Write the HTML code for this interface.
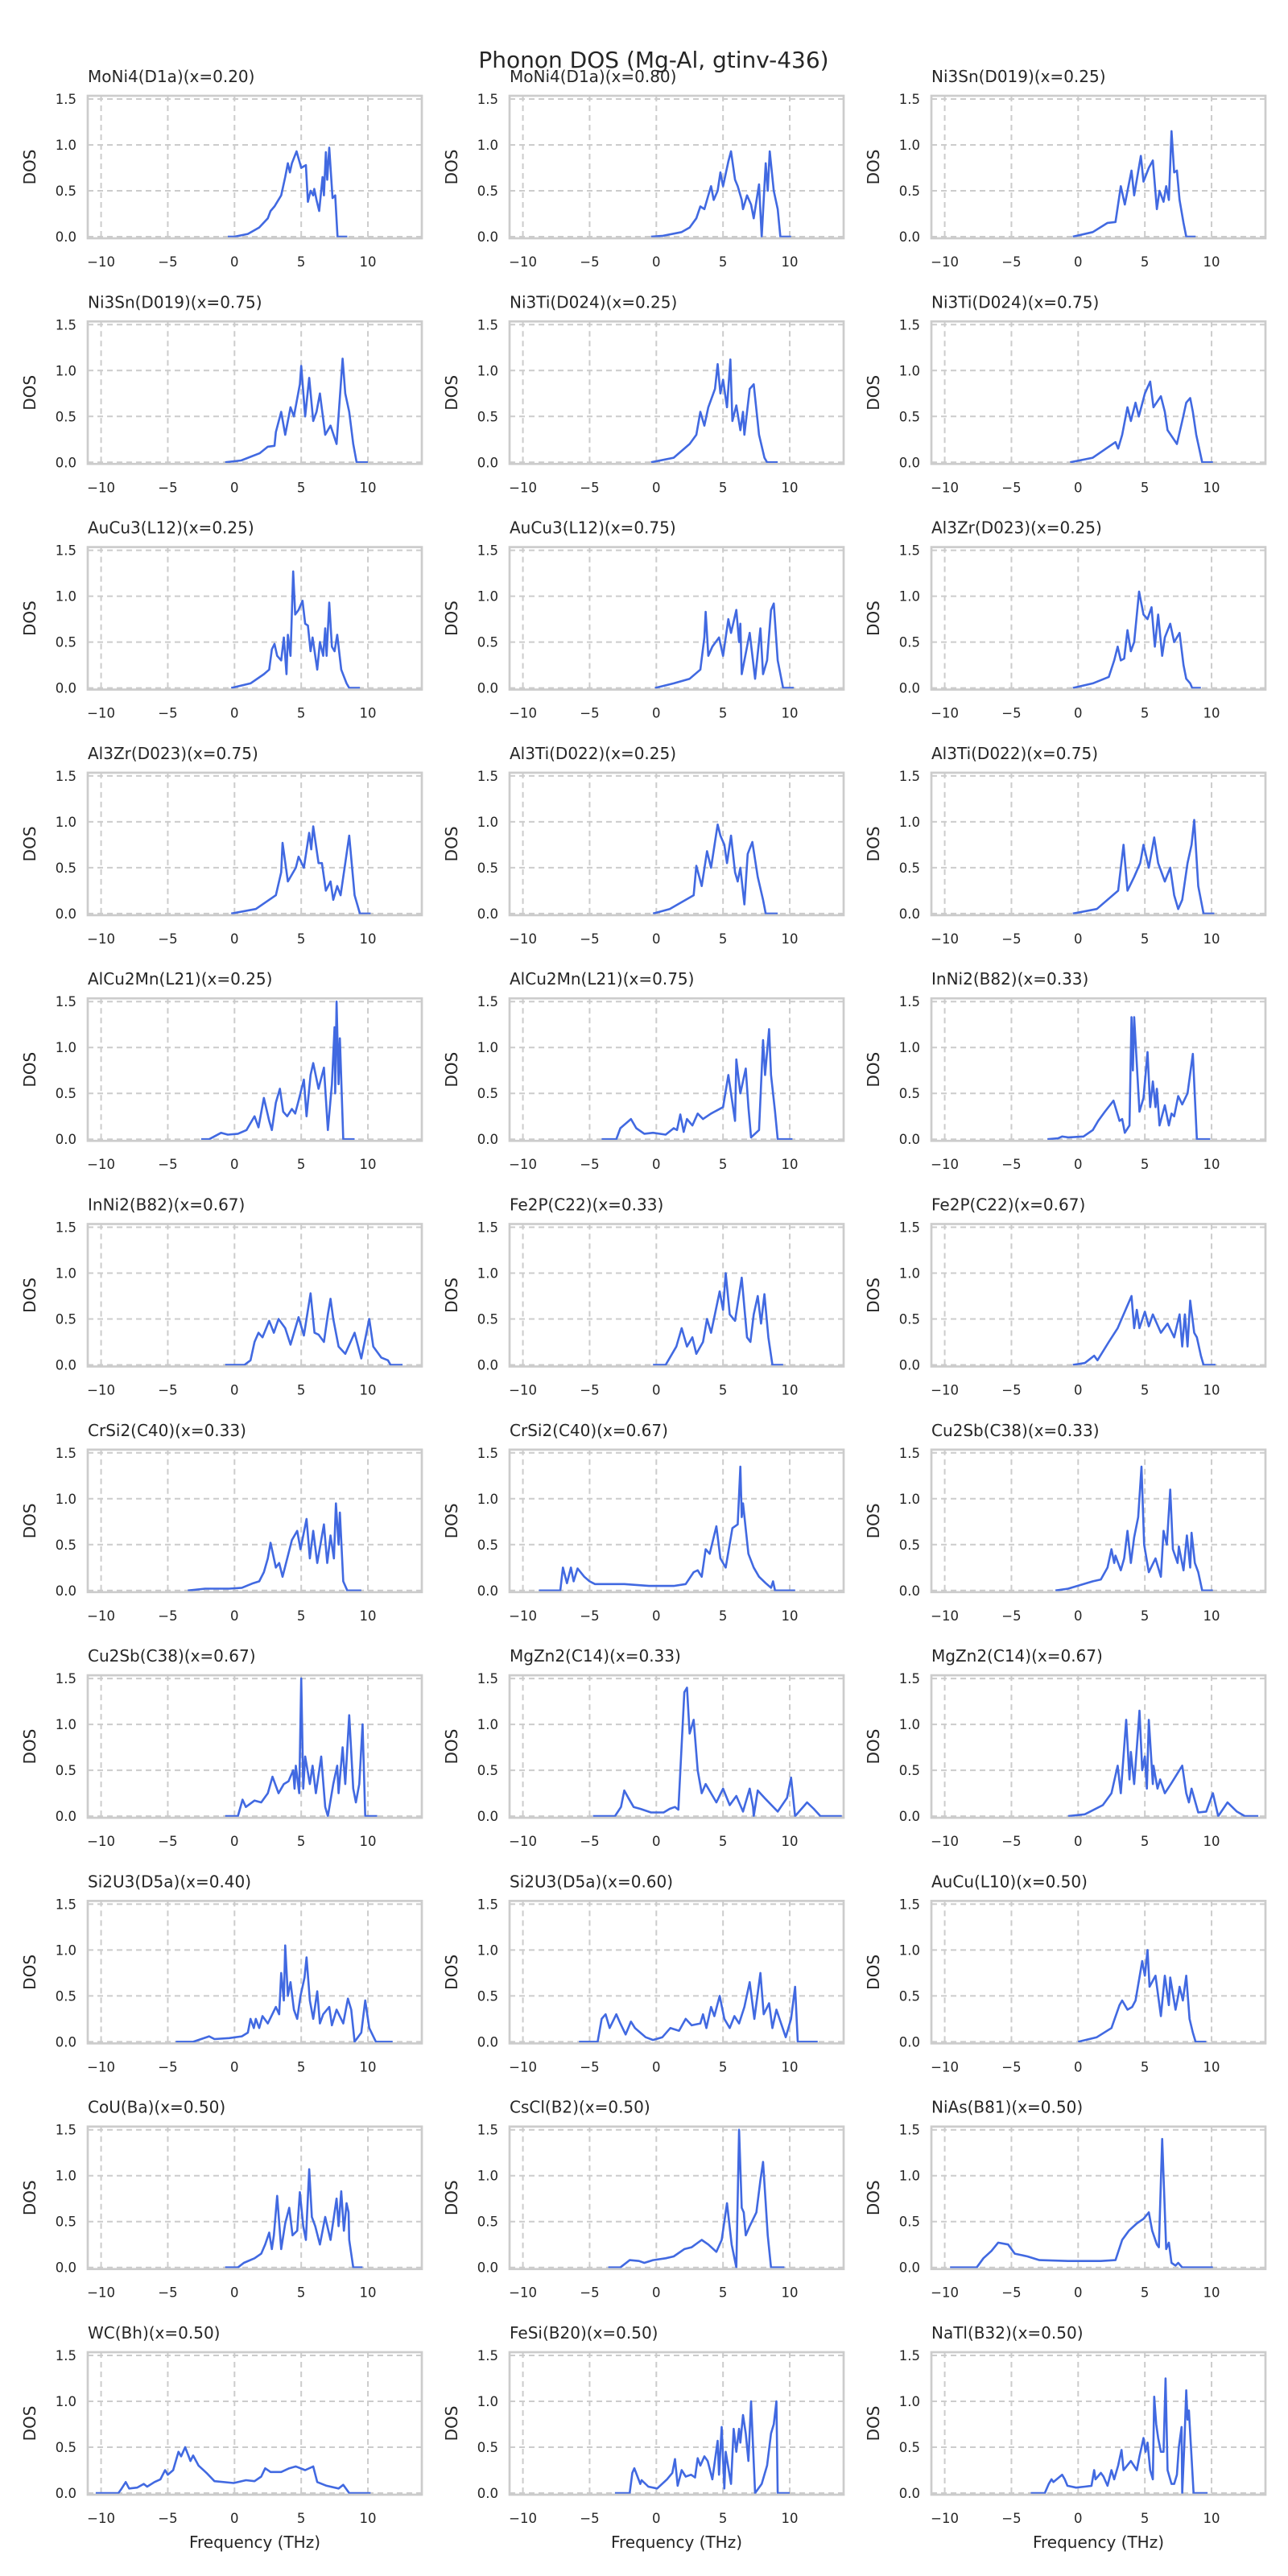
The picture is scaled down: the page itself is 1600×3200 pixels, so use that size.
<!DOCTYPE html>
<html><head><meta charset="utf-8"><style>
html,body{margin:0;padding:0;background:#fff;}
svg{display:block;font-family:"DejaVu Sans","Liberation Sans",sans-serif;}
</style></head><body>
<svg id="fig" width="1600" height="3200" viewBox="0 0 1600 3200" xmlns="http://www.w3.org/2000/svg">
<rect width="1600" height="3200" fill="#fff"/>
<text x="812" y="84" text-anchor="middle" font-size="28" fill="#262626">Phonon DOS (Mg-Al, gtinv-436)</text>
</svg>
<script>
const titles = ["MoNi4(D1a)(x=0.20)","MoNi4(D1a)(x=0.80)","Ni3Sn(D019)(x=0.25)","Ni3Sn(D019)(x=0.75)","Ni3Ti(D024)(x=0.25)","Ni3Ti(D024)(x=0.75)","AuCu3(L12)(x=0.25)","AuCu3(L12)(x=0.75)","Al3Zr(D023)(x=0.25)","Al3Zr(D023)(x=0.75)","Al3Ti(D022)(x=0.25)","Al3Ti(D022)(x=0.75)","AlCu2Mn(L21)(x=0.25)","AlCu2Mn(L21)(x=0.75)","InNi2(B82)(x=0.33)","InNi2(B82)(x=0.67)","Fe2P(C22)(x=0.33)","Fe2P(C22)(x=0.67)","CrSi2(C40)(x=0.33)","CrSi2(C40)(x=0.67)","Cu2Sb(C38)(x=0.33)","Cu2Sb(C38)(x=0.67)","MgZn2(C14)(x=0.33)","MgZn2(C14)(x=0.67)","Si2U3(D5a)(x=0.40)","Si2U3(D5a)(x=0.60)","AuCu(L10)(x=0.50)","CoU(Ba)(x=0.50)","CsCl(B2)(x=0.50)","NiAs(B81)(x=0.50)","WC(Bh)(x=0.50)","FeSi(B20)(x=0.50)","NaTl(B32)(x=0.50)"];
const xTicks = [-10,-5,0,5,10];
const xTickLabels = ["\u221210","\u22125","0","5","10"];
const yTicks = [0,0.5,1.0,1.5];
const yTickLabels = ["0.0","0.5","1.0","1.5"];
// each series: [frequency (THz), DOS] pairs
const P0=[[-0.5,0],[0,0],[1,0.03],[1.85,0.1],[2.5,0.2],[2.7,0.28],[3.0,0.33],[3.5,0.45],[3.8,0.65],[4.0,0.8],[4.15,0.7],[4.3,0.8],[4.65,0.93],[5.0,0.75],[5.35,0.78],[5.4,0.65],[5.5,0.38],[5.7,0.5],[5.9,0.45],[5.98,0.52],[6.15,0.4],[6.35,0.28],[6.6,0.65],[6.7,0.45],[6.85,0.92],[6.95,0.62],[7.1,0.97],[7.35,0.42],[7.55,0.45],[7.72,0],[8.45,0]];
const P1=[[-0.4,0],[0.5,0.01],[1.9,0.05],[2.5,0.1],[3.0,0.2],[3.3,0.33],[3.6,0.3],[3.9,0.45],[4.1,0.55],[4.3,0.4],[4.6,0.5],[4.8,0.7],[5.0,0.55],[5.4,0.82],[5.6,0.93],[5.9,0.62],[6.1,0.55],[6.4,0.4],[6.5,0.3],[6.8,0.45],[7.1,0.35],[7.3,0.2],[7.7,0.57],[7.9,0],[8.2,0.8],[8.35,0.5],[8.5,0.93],[8.8,0.5],[9.1,0.3],[9.3,0],[10.1,0]];
const P2=[[-0.4,0],[1.1,0.05],[2.2,0.15],[2.8,0.16],[3.2,0.55],[3.5,0.35],[4.0,0.72],[4.2,0.45],[4.7,0.88],[4.9,0.6],[5.3,0.75],[5.6,0.83],[5.9,0.3],[6.1,0.5],[6.4,0.38],[6.6,0.55],[6.8,0.4],[7.0,1.15],[7.2,0.7],[7.4,0.72],[7.6,0.4],[7.9,0.15],[8.1,0],[8.8,0]];
const P3=[[-0.7,0],[0.5,0.02],[1.9,0.1],[2.5,0.17],[3.0,0.18],[3.1,0.33],[3.5,0.55],[3.8,0.3],[4.2,0.6],[4.45,0.5],[4.9,0.85],[5.0,1.05],[5.3,0.5],[5.6,0.92],[5.9,0.45],[6.15,0.55],[6.4,0.75],[6.8,0.3],[7.2,0.4],[7.65,0.2],[8.1,1.13],[8.3,0.75],[8.6,0.55],[8.9,0.2],[9.15,0],[10.0,0]];
const P4=[[-0.4,0],[1.3,0.05],[2.5,0.2],[3.0,0.3],[3.3,0.55],[3.6,0.4],[3.9,0.6],[4.4,0.8],[4.6,1.07],[4.8,0.75],[5.0,0.9],[5.3,0.6],[5.55,1.12],[5.7,0.45],[6.0,0.62],[6.3,0.35],[6.5,0.55],[6.6,0.3],[7.0,0.8],[7.3,0.85],[7.7,0.3],[8.1,0.05],[8.3,0],[9.1,0]];
const P5=[[-0.6,0],[1.1,0.05],[2.8,0.22],[3.0,0.15],[3.3,0.3],[3.7,0.6],[3.95,0.45],[4.3,0.65],[4.55,0.5],[5.0,0.75],[5.4,0.88],[5.65,0.6],[6.2,0.72],[6.5,0.55],[6.7,0.35],[7.4,0.2],[7.8,0.45],[8.1,0.65],[8.4,0.7],[8.6,0.55],[8.85,0.3],[9.3,0],[10.1,0]];
const P6=[[-0.25,0],[1.2,0.05],[2.2,0.15],[2.6,0.2],[2.8,0.42],[3.0,0.48],[3.2,0.35],[3.5,0.3],[3.7,0.55],[3.9,0.15],[4.0,0.58],[4.2,0.35],[4.4,1.27],[4.55,0.8],[4.8,0.85],[5.1,0.95],[5.3,0.7],[5.5,0.68],[5.7,0.4],[5.85,0.55],[6.2,0.2],[6.4,0.5],[6.65,0.35],[6.8,0.65],[6.9,0.35],[7.1,0.93],[7.3,0.45],[7.5,0.4],[7.7,0.58],[8.0,0.2],[8.4,0.05],[8.6,0],[9.4,0]];
const P7=[[-0.1,0],[1.3,0.05],[2.5,0.1],[3.3,0.2],[3.6,0.55],[3.7,0.83],[3.9,0.35],[4.2,0.45],[4.7,0.55],[5.0,0.35],[5.4,0.75],[5.6,0.6],[6.0,0.85],[6.2,0.5],[6.3,0.7],[6.4,0.15],[7.0,0.6],[7.4,0.1],[7.8,0.65],[8.0,0.15],[8.3,0.3],[8.6,0.85],[8.8,0.92],[9.1,0.3],[9.5,0],[10.3,0]];
const P8=[[-0.4,0],[1.1,0.05],[2.3,0.12],[2.7,0.3],[2.96,0.45],[3.2,0.3],[3.45,0.32],[3.7,0.63],[3.95,0.4],[4.2,0.5],[4.57,1.05],[4.9,0.8],[5.2,0.75],[5.5,0.88],[5.75,0.45],[6.0,0.8],[6.3,0.35],[6.5,0.55],[6.9,0.7],[7.2,0.5],[7.6,0.6],[7.9,0.25],[8.1,0.1],[8.4,0.05],[8.55,0],[9.2,0]];
const P9=[[-0.25,0],[1.6,0.05],[3.1,0.2],[3.5,0.45],[3.6,0.77],[4.0,0.35],[4.6,0.5],[4.8,0.62],[5.2,0.5],[5.6,0.88],[5.75,0.7],[5.9,0.95],[6.3,0.55],[6.55,0.55],[6.85,0.25],[7.2,0.35],[7.4,0.15],[7.7,0.3],[7.95,0.2],[8.3,0.55],[8.6,0.85],[9.0,0.2],[9.4,0],[10.2,0]];
const P10=[[-0.25,0],[1.0,0.05],[2.8,0.2],[3.0,0.52],[3.4,0.3],[3.8,0.68],[4.1,0.5],[4.6,0.97],[4.8,0.85],[5.1,0.75],[5.3,0.55],[5.6,0.85],[5.9,0.45],[6.1,0.35],[6.3,0.5],[6.6,0.1],[6.85,0.65],[7.2,0.78],[7.6,0.4],[8.0,0.15],[8.2,0],[9.1,0]];
const P11=[[-0.4,0],[1.4,0.05],[3.0,0.25],[3.4,0.75],[3.7,0.25],[4.2,0.4],[4.65,0.55],[4.9,0.75],[5.3,0.5],[5.7,0.83],[6.0,0.55],[6.5,0.35],[6.9,0.5],[7.2,0.2],[7.5,0.05],[7.8,0.15],[8.2,0.55],[8.5,0.75],[8.7,1.02],[9.0,0.3],[9.4,0],[10.2,0]];
const P12=[[-2.5,0],[-1.9,0],[-1.0,0.07],[-0.5,0.05],[0.25,0.06],[0.9,0.1],[1.1,0.15],[1.5,0.25],[1.8,0.13],[2.2,0.45],[2.6,0.2],[2.8,0.1],[3.1,0.4],[3.4,0.55],[3.65,0.3],[3.95,0.25],[4.3,0.33],[4.55,0.28],[4.8,0.42],[5.2,0.65],[5.4,0.25],[5.7,0.7],[5.9,0.83],[6.3,0.55],[6.7,0.78],[7.0,0.1],[7.3,0.6],[7.5,1.22],[7.55,0.5],[7.65,1.5],[7.8,0.6],[7.9,1.1],[8.15,0],[9.0,0]];
const P13=[[-4.1,0],[-3.0,0],[-2.7,0.12],[-1.9,0.22],[-1.5,0.12],[-0.9,0.06],[-0.25,0.07],[0.7,0.05],[1.3,0.12],[1.55,0.1],[1.8,0.27],[2.05,0.08],[2.3,0.22],[2.7,0.15],[3.1,0.28],[3.5,0.22],[4.1,0.28],[5.0,0.35],[5.4,0.7],[5.9,0.2],[6.0,0.87],[6.3,0.5],[6.7,0.77],[6.9,0.35],[7.1,0.02],[7.7,0.1],[8.0,1.08],[8.15,0.7],[8.45,1.2],[8.6,0.7],[8.9,0.3],[9.1,0],[10.2,0]];
const P14=[[-2.3,0],[-1.5,0.01],[-1.2,0.03],[-0.75,0.02],[0.4,0.03],[1.1,0.1],[1.5,0.2],[2.0,0.3],[2.65,0.42],[3.1,0.2],[3.3,0.22],[3.5,0.07],[3.85,0.15],[4.0,1.33],[4.1,0.75],[4.2,1.33],[4.6,0.3],[4.9,0.45],[5.2,0.95],[5.4,0.35],[5.6,0.63],[5.8,0.35],[5.9,0.55],[6.1,0.15],[6.5,0.37],[6.8,0.15],[7.0,0.28],[7.2,0.25],[7.5,0.47],[7.8,0.38],[8.2,0.5],[8.6,0.93],[8.9,0],[9.9,0]];
const P15=[[-0.7,0],[0.75,0],[1.2,0.05],[1.5,0.25],[1.8,0.35],[2.1,0.3],[2.6,0.48],[2.95,0.35],[3.3,0.5],[3.8,0.4],[4.2,0.22],[4.8,0.52],[5.2,0.32],[5.7,0.78],[6.0,0.35],[6.3,0.33],[6.7,0.25],[7.0,0.55],[7.2,0.72],[7.4,0.5],[7.8,0.2],[8.3,0.12],[9.0,0.35],[9.5,0.07],[10.1,0.5],[10.4,0.2],[11.0,0.08],[11.5,0.05],[11.7,0],[12.6,0]];
const P16=[[-0.25,0],[0.7,0],[1.5,0.2],[1.9,0.4],[2.3,0.2],[2.7,0.3],[3.0,0.12],[3.5,0.25],[3.8,0.5],[4.1,0.35],[4.75,0.8],[5.0,0.6],[5.2,1.0],[5.5,0.55],[5.9,0.48],[6.4,0.95],[6.8,0.3],[7.05,0.25],[7.3,0.55],[7.6,0.75],[7.85,0.45],[8.1,0.77],[8.4,0.3],[8.7,0],[9.5,0]];
const P17=[[-0.4,0],[0.5,0.02],[1.2,0.1],[1.45,0.05],[2.3,0.25],[2.96,0.4],[4.0,0.75],[4.2,0.4],[4.4,0.6],[4.6,0.4],[5.0,0.58],[5.3,0.42],[5.6,0.55],[6.2,0.35],[6.7,0.45],[7.2,0.3],[7.6,0.55],[7.8,0.2],[8.0,0.55],[8.2,0.2],[8.4,0.7],[8.7,0.35],[8.9,0.3],[9.2,0.1],[9.4,0],[10.3,0]];
const P18=[[-3.5,0],[-2.2,0.02],[-0.4,0.02],[0.55,0.03],[1.4,0.08],[1.85,0.1],[2.2,0.2],[2.5,0.35],[2.7,0.52],[3.1,0.25],[3.35,0.3],[3.6,0.15],[3.95,0.35],[4.3,0.55],[4.7,0.65],[4.95,0.45],[5.4,0.78],[5.65,0.35],[5.9,0.65],[6.2,0.3],[6.7,0.72],[6.95,0.3],[7.2,0.6],[7.45,0.35],[7.6,0.95],[7.8,0.5],[7.9,0.85],[8.15,0.1],[8.45,0],[9.5,0]];
const P19=[[-8.8,0],[-7.2,0],[-7.0,0.25],[-6.7,0.08],[-6.4,0.25],[-6.2,0.1],[-5.9,0.24],[-5.4,0.15],[-5.0,0.1],[-4.6,0.07],[-2.4,0.07],[-0.55,0.05],[1.3,0.05],[2.2,0.07],[2.8,0.2],[3.1,0.22],[3.4,0.15],[3.7,0.45],[4.0,0.4],[4.5,0.7],[4.8,0.35],[5.2,0.25],[5.7,0.68],[6.1,0.72],[6.3,1.35],[6.4,0.8],[6.5,0.95],[6.9,0.4],[7.3,0.25],[7.7,0.15],[8.2,0.08],[8.6,0.03],[8.75,0.1],[8.9,0],[10.4,0]];
const P20=[[-1.7,0],[-0.75,0.02],[1.1,0.1],[1.7,0.12],[2.2,0.25],[2.5,0.45],[2.7,0.3],[2.8,0.38],[3.2,0.22],[3.45,0.35],[3.7,0.65],[3.95,0.3],[4.2,0.58],[4.5,0.8],[4.75,1.35],[4.95,0.5],[5.3,0.2],[5.8,0.35],[6.2,0.15],[6.4,0.65],[6.65,0.5],[6.9,1.1],[7.1,0.45],[7.45,0.3],[7.55,0.48],[7.9,0.22],[8.15,0.6],[8.4,0.25],[8.5,0.63],[8.75,0.3],[9.0,0.2],[9.3,0],[10.1,0]];
const P21=[[-0.7,0],[0.25,0],[0.6,0.18],[0.85,0.1],[1.5,0.17],[2.0,0.15],[2.5,0.25],[2.85,0.43],[3.3,0.25],[3.7,0.35],[4.05,0.38],[4.4,0.5],[4.5,0.3],[4.6,0.55],[4.85,0.25],[5.0,1.5],[5.15,0.3],[5.3,0.65],[5.65,0.35],[5.85,0.55],[6.1,0.25],[6.5,0.65],[6.8,0.1],[7.0,0],[7.4,0.35],[7.7,0.55],[7.8,0.25],[8.1,0.75],[8.3,0.35],[8.6,1.1],[8.9,0.3],[9.1,0.15],[9.35,0.35],[9.6,1.0],[9.8,0],[10.7,0]];
const P22=[[-4.75,0],[-3.1,0],[-2.65,0.1],[-2.4,0.28],[-2.1,0.2],[-1.7,0.1],[-1.2,0.08],[-0.4,0.04],[0.55,0.04],[1.0,0.08],[1.4,0.1],[1.65,0.07],[2.1,1.35],[2.3,1.4],[2.5,0.9],[2.8,1.05],[3.1,0.5],[3.4,0.25],[3.7,0.35],[4.1,0.25],[4.5,0.15],[5.0,0.3],[5.5,0.12],[6.0,0.22],[6.5,0.05],[7.0,0.3],[7.25,0.1],[7.3,0],[7.6,0.28],[8.1,0.2],[9.1,0.05],[9.8,0.2],[10.1,0.42],[10.4,0],[11.3,0.15],[11.8,0.08],[12.3,0],[13.9,0]];
const P23=[[-0.75,0],[0.5,0.02],[1.85,0.12],[2.5,0.25],[2.96,0.55],[3.2,0.25],[3.6,1.05],[3.85,0.4],[3.95,0.7],[4.2,0.35],[4.5,0.95],[4.6,1.15],[4.8,0.5],[5.0,0.65],[5.15,0.3],[5.3,1.05],[5.6,0.35],[5.65,0.55],[5.95,0.3],[6.15,0.4],[6.5,0.25],[6.95,0.35],[7.8,0.55],[8.1,0.25],[8.3,0.15],[8.5,0.3],[9.0,0.04],[9.6,0.05],[10.1,0.25],[10.5,0],[11.2,0.15],[11.9,0.05],[12.5,0],[13.5,0]];
const P24=[[-4.4,0],[-3.1,0],[-2.5,0.03],[-1.9,0.06],[-1.5,0.03],[-0.4,0.04],[0.55,0.06],[1.0,0.1],[1.2,0.25],[1.45,0.15],[1.6,0.25],[1.85,0.15],[2.1,0.28],[2.5,0.2],[3.1,0.38],[3.35,0.3],[3.5,0.75],[3.7,0.45],[3.8,1.05],[4.0,0.5],[4.2,0.65],[4.45,0.35],[4.7,0.25],[4.95,0.5],[5.25,0.7],[5.4,0.92],[5.65,0.45],[5.9,0.25],[6.2,0.55],[6.4,0.2],[6.65,0.3],[7.1,0.38],[7.3,0.18],[7.65,0.35],[8.15,0.2],[8.5,0.47],[8.75,0.35],[9.0,0],[9.5,0.1],[9.8,0.45],[10.1,0.15],[10.6,0],[11.85,0]];
const P25=[[-5.8,0],[-4.4,0],[-4.1,0.25],[-3.8,0.3],[-3.5,0.15],[-3.0,0.3],[-2.7,0.2],[-2.3,0.08],[-1.9,0.22],[-1.6,0.15],[-1.2,0.1],[-0.8,0.05],[-0.25,0.02],[0.45,0.05],[1.05,0.15],[1.7,0.12],[2.2,0.25],[2.65,0.18],[3.3,0.2],[3.5,0.3],[3.75,0.15],[4.1,0.38],[4.35,0.28],[4.75,0.5],[5.1,0.25],[5.5,0.15],[5.85,0.28],[6.2,0.2],[6.6,0.38],[7.0,0.65],[7.35,0.25],[7.8,0.75],[8.05,0.3],[8.45,0.42],[8.7,0.15],[9.0,0.35],[9.7,0.05],[10.1,0.25],[10.4,0.6],[10.6,0],[12.1,0]];
const P26=[[0,0],[1.4,0.05],[2.5,0.15],[3.1,0.4],[3.3,0.45],[3.7,0.35],[4.05,0.38],[4.3,0.45],[4.8,0.88],[5.0,0.72],[5.2,1.0],[5.35,0.6],[5.8,0.72],[6.2,0.28],[6.5,0.72],[6.8,0.4],[6.9,0.7],[7.3,0.35],[7.5,0.5],[7.6,0.6],[7.85,0.45],[8.1,0.72],[8.35,0.25],[8.6,0.1],[8.8,0],[9.6,0]];
const P27=[[-0.7,0],[0.25,0],[0.7,0.05],[1.5,0.1],[2.0,0.15],[2.3,0.25],[2.6,0.38],[2.8,0.2],[2.95,0.35],[3.2,0.78],[3.5,0.2],[3.8,0.48],[4.1,0.65],[4.35,0.35],[4.7,0.4],[4.9,0.82],[5.15,0.45],[5.35,0.3],[5.6,1.07],[5.8,0.55],[6.05,0.45],[6.4,0.25],[6.8,0.55],[7.2,0.3],[7.65,0.75],[7.8,0.45],[8.0,0.83],[8.2,0.4],[8.4,0.7],[8.55,0.6],[8.6,0.3],[8.9,0],[9.6,0]];
const P28=[[-3.6,0],[-2.7,0],[-2.0,0.08],[-1.3,0.07],[-0.9,0.05],[-0.25,0.08],[0.7,0.1],[1.3,0.12],[2.1,0.2],[2.65,0.22],[3.4,0.3],[3.9,0.25],[4.5,0.17],[4.9,0.3],[5.3,0.7],[5.65,0.25],[6.0,0],[6.2,1.5],[6.4,0.65],[6.55,0.6],[6.7,0.35],[7.0,0.45],[7.5,0.6],[7.8,0.95],[8.0,1.15],[8.2,0.7],[8.35,0.35],[8.6,0],[9.6,0]];
const P29=[[-9.6,0],[-7.6,0],[-7.1,0.1],[-6.5,0.18],[-6.0,0.27],[-5.25,0.25],[-4.75,0.15],[-3.8,0.12],[-2.9,0.08],[-0.75,0.07],[1.7,0.07],[2.8,0.08],[3.3,0.3],[3.8,0.4],[4.4,0.48],[4.9,0.53],[5.3,0.6],[5.55,0.4],[5.9,0.25],[6.05,0.22],[6.3,1.4],[6.6,0.2],[6.8,0.27],[7.0,0.05],[7.3,0.02],[7.5,0.05],[7.8,0],[10.1,0]];
const P30=[[-10.4,0],[-8.7,0],[-8.5,0.04],[-8.15,0.12],[-7.9,0.05],[-7.3,0.06],[-6.8,0.1],[-6.55,0.07],[-6.0,0.12],[-5.55,0.15],[-5.2,0.25],[-5.0,0.2],[-4.6,0.25],[-4.2,0.45],[-4.0,0.4],[-3.7,0.5],[-3.3,0.35],[-3.1,0.41],[-2.7,0.3],[-2.1,0.22],[-1.5,0.13],[-0.06,0.11],[0.86,0.14],[1.5,0.13],[2.0,0.18],[2.3,0.27],[2.7,0.23],[3.5,0.23],[4.1,0.27],[4.6,0.29],[5.3,0.25],[5.9,0.29],[6.2,0.12],[6.9,0.08],[7.8,0.05],[8.15,0.09],[8.6,0],[10.2,0]];
const P31=[[-3.1,0],[-2.0,0],[-1.8,0.22],[-1.65,0.27],[-1.2,0.1],[-1.1,0.14],[-0.6,0.07],[0.06,0.05],[0.8,0.15],[1.2,0.22],[1.4,0.37],[1.6,0.08],[1.9,0.25],[2.2,0.18],[2.6,0.2],[2.9,0.17],[3.1,0.38],[3.3,0.3],[3.6,0.4],[3.85,0.35],[4.2,0.15],[4.6,0.57],[4.7,0.2],[4.9,0.72],[5.1,0.05],[5.2,0.45],[5.6,0.1],[5.8,0.7],[6.0,0.45],[6.2,0.7],[6.3,0.55],[6.5,0.85],[6.7,0.65],[6.9,0.35],[7.1,1.0],[7.4,0],[7.9,0.1],[8.3,0.3],[8.6,0.65],[8.8,0.75],[9.0,1.0],[9.1,0],[10.0,0]];
const P32=[[-3.55,0],[-2.5,0],[-2.2,0.1],[-2.0,0.15],[-1.85,0.12],[-1.2,0.2],[-1.0,0.15],[-0.8,0.08],[-0.15,0.06],[0.5,0.07],[1.0,0.08],[1.2,0.25],[1.3,0.15],[1.7,0.22],[1.9,0.18],[2.2,0.08],[2.5,0.25],[2.7,0.15],[3.0,0.3],[3.25,0.47],[3.4,0.25],[3.95,0.35],[4.4,0.25],[4.6,0.4],[4.9,0.6],[5.05,0.45],[5.2,0.55],[5.4,0.25],[5.6,0.15],[5.7,1.05],[5.85,0.75],[6.0,0.6],[6.2,0.45],[6.4,0.45],[6.55,1.25],[6.7,0.25],[7.0,0.1],[7.2,0.1],[7.4,0.2],[7.55,0.5],[7.75,0.72],[7.8,0],[7.95,0.5],[8.1,1.12],[8.2,0.8],[8.3,0.9],[8.65,0],[9.7,0]];
const curves=[P0,P1,P2,P3,P4,P5,P6,P7,P8,P9,P10,P11,P12,P13,P14,P15,P16,P17,P18,P19,P20,P21,P22,P23,P24,P25,P26,P27,P28,P29,P30,P31,P32];

const NS="http://www.w3.org/2000/svg";
const fig=document.getElementById('fig');
const colLeft=[109,633,1157], W=415, H=177, top0=119, rowPitch=280.3;
const XMIN=-11, XMAX=14.04, YMIN=-0.0175, YMAX=1.535;
function mk(tag,attrs,parent){const e=document.createElementNS(NS,tag);for(const k in attrs)e.setAttribute(k,attrs[k]);(parent||fig).appendChild(e);return e;}

const defs=mk('defs',{});
curves.forEach((pts,i)=>{
  const r=Math.floor(i/3), c=i%3;
  const L=colLeft[c], T=top0+r*rowPitch;
  const sx=v=>L+(v-XMIN)/(XMAX-XMIN)*W;
  const sy=v=>T+H-(v-YMIN)/(YMAX-YMIN)*H;
  const g=mk('g',{});
  
  
  const cp=mk('clipPath',{id:'cp'+i},defs);
  mk('rect',{x:L,y:T,width:W,height:H},cp);
  xTicks.forEach(t=>{const l=mk('line',{x1:sx(t),x2:sx(t),y1:T,y2:T+H,stroke:'#cccccc','stroke-width':2,'stroke-dasharray':'7,5'},g);
    
    });
  yTicks.forEach(t=>{const l=mk('line',{x1:L,x2:L+W,y1:sy(t),y2:sy(t),stroke:'#cccccc','stroke-width':2,'stroke-dasharray':'7,5'},g);
    
    });
  const d=pts.map((p,j)=>(j?'L':'M')+sx(p[0]).toFixed(1)+','+sy(p[1]).toFixed(1)).join(' ');
  const path=mk('path',{d:d,fill:'none',stroke:'#4169e1','stroke-width':2.6,'stroke-linejoin':'round','clip-path':'url(#cp'+i+')'},g);
  
  
  const fr=mk('rect',{x:L,y:T,width:W,height:H,fill:'none',stroke:'#cccccc','stroke-width':2.7},g);
  
  
  xTicks.forEach((t,k)=>{const tx=mk('text',{x:sx(t),y:T+H+35,'text-anchor':'middle','font-size':16.5,fill:'#262626'},g);tx.textContent=xTickLabels[k];
    
    });
  yTicks.forEach((t,k)=>{const tx=mk('text',{x:L-14,y:sy(t)+6,'text-anchor':'end','font-size':16.5,fill:'#262626'},g);tx.textContent=yTickLabels[k];
    
    });
  const yl=mk('text',{x:0,y:0,'text-anchor':'middle','font-size':20,fill:'#262626',transform:'translate('+(L-65)+','+(T+H/2)+') rotate(-90)'},g);
  yl.textContent='DOS';
  
  
  const ti=mk('text',{x:L,y:T-17,'font-size':20,fill:'#262626'},g);
  ti.textContent=titles[i];
  
  
  if(r===10){
    const xl=mk('text',{x:L+W/2,y:T+H+66,'text-anchor':'middle','font-size':20,fill:'#262626'},g);
    xl.textContent='Frequency (THz)';
    
    
  }
});
</script>
</body></html>
